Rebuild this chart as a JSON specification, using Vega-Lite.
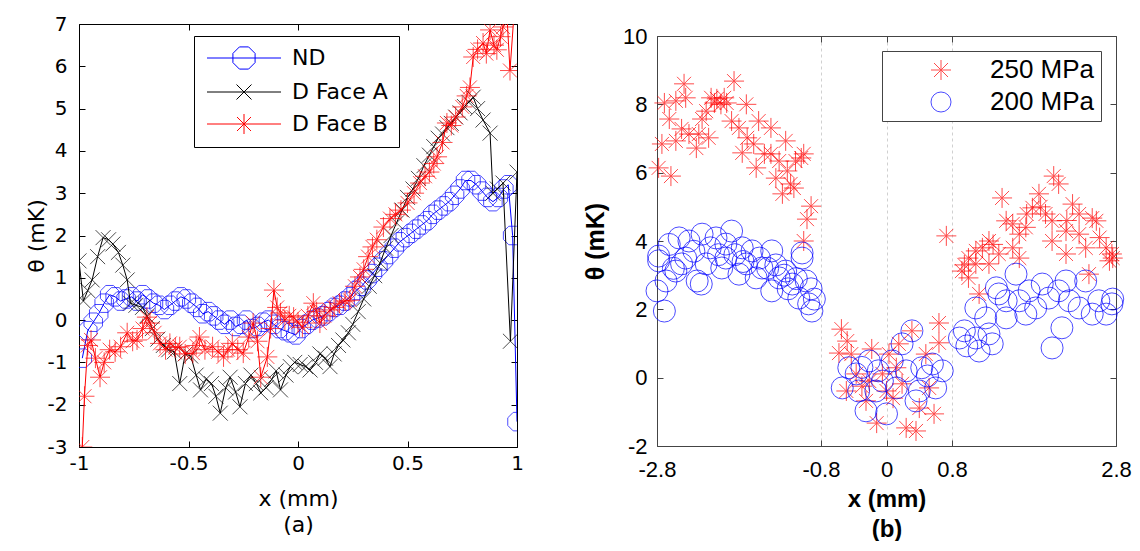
{
  "$schema": "https://vega.github.io/schema/vega-lite/v6.json",
  "background": "white",
  "padding": {"left": 25, "top": 0, "right": 5, "bottom": 0},
  "config": {"view": {"stroke": null}, "axis": {"grid": false, "labelFlush": false}},
  "spacing": 59,
  "resolve": {"scale": {"color": "independent", "shape": "independent", "x": "independent", "y": "independent"}, "legend": {"color": "independent", "shape": "independent"}},
  "datasets": {
    "a": [
      {"s": "ND", "x": -0.985, "y": -0.9}, {"s": "ND", "x": -0.96, "y": -0.25}, {"s": "ND", "x": -0.935, "y": -0.05}, {"s": "ND", "x": -0.91, "y": 0.15}, {"s": "ND", "x": -0.885, "y": 0.4}, {"s": "ND", "x": -0.86, "y": 0.6}, {"s": "ND", "x": -0.835, "y": 0.55}, {"s": "ND", "x": -0.81, "y": 0.45}, {"s": "ND", "x": -0.785, "y": 0.5}, {"s": "ND", "x": -0.76, "y": 0.55}, {"s": "ND", "x": -0.735, "y": 0.45}, {"s": "ND", "x": -0.71, "y": 0.6}, {"s": "ND", "x": -0.685, "y": 0.5}, {"s": "ND", "x": -0.66, "y": 0.4}, {"s": "ND", "x": -0.635, "y": 0.35}, {"s": "ND", "x": -0.61, "y": 0.25}, {"s": "ND", "x": -0.585, "y": 0.35}, {"s": "ND", "x": -0.56, "y": 0.45}, {"s": "ND", "x": -0.535, "y": 0.55}, {"s": "ND", "x": -0.51, "y": 0.5}, {"s": "ND", "x": -0.485, "y": 0.4}, {"s": "ND", "x": -0.46, "y": 0.3}, {"s": "ND", "x": -0.435, "y": 0.15}, {"s": "ND", "x": -0.41, "y": 0.2}, {"s": "ND", "x": -0.385, "y": 0.1}, {"s": "ND", "x": -0.36, "y": 0.0}, {"s": "ND", "x": -0.335, "y": -0.1}, {"s": "ND", "x": -0.31, "y": 0.0}, {"s": "ND", "x": -0.285, "y": -0.15}, {"s": "ND", "x": -0.26, "y": -0.1}, {"s": "ND", "x": -0.235, "y": 0.0}, {"s": "ND", "x": -0.21, "y": -0.2}, {"s": "ND", "x": -0.185, "y": -0.15}, {"s": "ND", "x": -0.16, "y": -0.05}, {"s": "ND", "x": -0.135, "y": 0.0}, {"s": "ND", "x": -0.11, "y": -0.1}, {"s": "ND", "x": -0.085, "y": -0.2}, {"s": "ND", "x": -0.06, "y": -0.25}, {"s": "ND", "x": -0.035, "y": -0.3}, {"s": "ND", "x": -0.01, "y": -0.35}, {"s": "ND", "x": 0.015, "y": -0.2}, {"s": "ND", "x": 0.04, "y": -0.1}, {"s": "ND", "x": 0.065, "y": 0.0}, {"s": "ND", "x": 0.09, "y": 0.05}, {"s": "ND", "x": 0.115, "y": 0.1}, {"s": "ND", "x": 0.14, "y": 0.2}, {"s": "ND", "x": 0.165, "y": 0.3}, {"s": "ND", "x": 0.19, "y": 0.35}, {"s": "ND", "x": 0.215, "y": 0.45}, {"s": "ND", "x": 0.24, "y": 0.55}, {"s": "ND", "x": 0.265, "y": 0.7}, {"s": "ND", "x": 0.29, "y": 0.8}, {"s": "ND", "x": 0.315, "y": 0.95}, {"s": "ND", "x": 0.34, "y": 1.1}, {"s": "ND", "x": 0.365, "y": 1.25}, {"s": "ND", "x": 0.39, "y": 1.4}, {"s": "ND", "x": 0.415, "y": 1.55}, {"s": "ND", "x": 0.44, "y": 1.7}, {"s": "ND", "x": 0.465, "y": 1.85}, {"s": "ND", "x": 0.49, "y": 1.95}, {"s": "ND", "x": 0.515, "y": 2.05}, {"s": "ND", "x": 0.54, "y": 2.15}, {"s": "ND", "x": 0.565, "y": 2.25}, {"s": "ND", "x": 0.59, "y": 2.35}, {"s": "ND", "x": 0.615, "y": 2.5}, {"s": "ND", "x": 0.64, "y": 2.6}, {"s": "ND", "x": 0.665, "y": 2.7}, {"s": "ND", "x": 0.69, "y": 2.8}, {"s": "ND", "x": 0.715, "y": 2.95}, {"s": "ND", "x": 0.74, "y": 3.1}, {"s": "ND", "x": 0.765, "y": 3.3}, {"s": "ND", "x": 0.79, "y": 3.3}, {"s": "ND", "x": 0.815, "y": 3.2}, {"s": "ND", "x": 0.84, "y": 3.05}, {"s": "ND", "x": 0.865, "y": 2.9}, {"s": "ND", "x": 0.89, "y": 2.8}, {"s": "ND", "x": 0.915, "y": 2.9}, {"s": "ND", "x": 0.94, "y": 3.1}, {"s": "ND", "x": 0.96, "y": 3.2}, {"s": "ND", "x": 0.98, "y": 2.0}, {"s": "ND", "x": 1.0, "y": -2.4},
      {"s": "D Face A", "x": -1.0, "y": 1.4}, {"s": "D Face A", "x": -0.98, "y": 0.45}, {"s": "D Face A", "x": -0.96, "y": 0.7}, {"s": "D Face A", "x": -0.94, "y": 0.95}, {"s": "D Face A", "x": -0.915, "y": 1.5}, {"s": "D Face A", "x": -0.89, "y": 1.95}, {"s": "D Face A", "x": -0.865, "y": 1.9}, {"s": "D Face A", "x": -0.845, "y": 1.8}, {"s": "D Face A", "x": -0.82, "y": 1.6}, {"s": "D Face A", "x": -0.8, "y": 1.3}, {"s": "D Face A", "x": -0.78, "y": 0.95}, {"s": "D Face A", "x": -0.765, "y": 0.4}, {"s": "D Face A", "x": -0.74, "y": 0.35}, {"s": "D Face A", "x": -0.71, "y": 0.3}, {"s": "D Face A", "x": -0.69, "y": 0.1}, {"s": "D Face A", "x": -0.665, "y": -0.2}, {"s": "D Face A", "x": -0.64, "y": -0.45}, {"s": "D Face A", "x": -0.615, "y": -0.6}, {"s": "D Face A", "x": -0.59, "y": -0.7}, {"s": "D Face A", "x": -0.565, "y": -0.75}, {"s": "D Face A", "x": -0.54, "y": -1.5}, {"s": "D Face A", "x": -0.515, "y": -0.8}, {"s": "D Face A", "x": -0.49, "y": -0.85}, {"s": "D Face A", "x": -0.465, "y": -1.3}, {"s": "D Face A", "x": -0.445, "y": -1.65}, {"s": "D Face A", "x": -0.42, "y": -1.4}, {"s": "D Face A", "x": -0.395, "y": -1.5}, {"s": "D Face A", "x": -0.375, "y": -1.8}, {"s": "D Face A", "x": -0.355, "y": -2.2}, {"s": "D Face A", "x": -0.33, "y": -1.6}, {"s": "D Face A", "x": -0.31, "y": -1.35}, {"s": "D Face A", "x": -0.285, "y": -1.7}, {"s": "D Face A", "x": -0.265, "y": -2.05}, {"s": "D Face A", "x": -0.24, "y": -1.5}, {"s": "D Face A", "x": -0.215, "y": -1.3}, {"s": "D Face A", "x": -0.19, "y": -1.5}, {"s": "D Face A", "x": -0.17, "y": -1.72}, {"s": "D Face A", "x": -0.145, "y": -1.6}, {"s": "D Face A", "x": -0.12, "y": -1.4}, {"s": "D Face A", "x": -0.1, "y": -1.2}, {"s": "D Face A", "x": -0.08, "y": -1.65}, {"s": "D Face A", "x": -0.055, "y": -1.3}, {"s": "D Face A", "x": -0.035, "y": -1.1}, {"s": "D Face A", "x": -0.015, "y": -1.0}, {"s": "D Face A", "x": 0.01, "y": -1.05}, {"s": "D Face A", "x": 0.035, "y": -1.1}, {"s": "D Face A", "x": 0.055, "y": -1.18}, {"s": "D Face A", "x": 0.08, "y": -1.0}, {"s": "D Face A", "x": 0.1, "y": -0.8}, {"s": "D Face A", "x": 0.125, "y": -0.9}, {"s": "D Face A", "x": 0.146, "y": -1.1}, {"s": "D Face A", "x": 0.165, "y": -0.8}, {"s": "D Face A", "x": 0.185, "y": -0.6}, {"s": "D Face A", "x": 0.205, "y": -0.47}, {"s": "D Face A", "x": 0.23, "y": -0.3}, {"s": "D Face A", "x": 0.25, "y": -0.1}, {"s": "D Face A", "x": 0.275, "y": 0.2}, {"s": "D Face A", "x": 0.3, "y": 0.5}, {"s": "D Face A", "x": 0.325, "y": 0.8}, {"s": "D Face A", "x": 0.35, "y": 1.05}, {"s": "D Face A", "x": 0.375, "y": 1.35}, {"s": "D Face A", "x": 0.4, "y": 1.7}, {"s": "D Face A", "x": 0.425, "y": 2.0}, {"s": "D Face A", "x": 0.45, "y": 2.3}, {"s": "D Face A", "x": 0.475, "y": 2.6}, {"s": "D Face A", "x": 0.5, "y": 2.9}, {"s": "D Face A", "x": 0.525, "y": 3.1}, {"s": "D Face A", "x": 0.55, "y": 3.35}, {"s": "D Face A", "x": 0.575, "y": 3.65}, {"s": "D Face A", "x": 0.6, "y": 3.9}, {"s": "D Face A", "x": 0.62, "y": 4.1}, {"s": "D Face A", "x": 0.64, "y": 4.3}, {"s": "D Face A", "x": 0.66, "y": 4.4}, {"s": "D Face A", "x": 0.68, "y": 4.55}, {"s": "D Face A", "x": 0.7, "y": 4.65}, {"s": "D Face A", "x": 0.72, "y": 4.8}, {"s": "D Face A", "x": 0.74, "y": 4.9}, {"s": "D Face A", "x": 0.76, "y": 5.05}, {"s": "D Face A", "x": 0.78, "y": 5.15}, {"s": "D Face A", "x": 0.8, "y": 5.27}, {"s": "D Face A", "x": 0.82, "y": 5.0}, {"s": "D Face A", "x": 0.845, "y": 4.73}, {"s": "D Face A", "x": 0.877, "y": 4.42}, {"s": "D Face A", "x": 0.89, "y": 3.0}, {"s": "D Face A", "x": 0.91, "y": 3.1}, {"s": "D Face A", "x": 0.936, "y": 3.24}, {"s": "D Face A", "x": 0.97, "y": -0.5}, {"s": "D Face A", "x": 1.0, "y": 3.5},
      {"s": "D Face B", "x": -0.985, "y": -3.0}, {"s": "D Face B", "x": -0.975, "y": -1.8}, {"s": "D Face B", "x": -0.96, "y": -0.6}, {"s": "D Face B", "x": -0.945, "y": -0.47}, {"s": "D Face B", "x": -0.925, "y": -0.9}, {"s": "D Face B", "x": -0.904, "y": -1.35}, {"s": "D Face B", "x": -0.885, "y": -1.0}, {"s": "D Face B", "x": -0.86, "y": -0.7}, {"s": "D Face B", "x": -0.835, "y": -0.75}, {"s": "D Face B", "x": -0.81, "y": -0.63}, {"s": "D Face B", "x": -0.78, "y": -0.3}, {"s": "D Face B", "x": -0.755, "y": -0.5}, {"s": "D Face B", "x": -0.735, "y": -0.47}, {"s": "D Face B", "x": -0.71, "y": -0.2}, {"s": "D Face B", "x": -0.69, "y": 0.07}, {"s": "D Face B", "x": -0.676, "y": -0.07}, {"s": "D Face B", "x": -0.655, "y": -0.3}, {"s": "D Face B", "x": -0.63, "y": -0.55}, {"s": "D Face B", "x": -0.605, "y": -0.7}, {"s": "D Face B", "x": -0.585, "y": -0.55}, {"s": "D Face B", "x": -0.56, "y": -0.65}, {"s": "D Face B", "x": -0.54, "y": -0.63}, {"s": "D Face B", "x": -0.515, "y": -0.8}, {"s": "D Face B", "x": -0.48, "y": -0.78}, {"s": "D Face B", "x": -0.465, "y": -0.6}, {"s": "D Face B", "x": -0.45, "y": -0.4}, {"s": "D Face B", "x": -0.425, "y": -0.7}, {"s": "D Face B", "x": -0.39, "y": -0.63}, {"s": "D Face B", "x": -0.365, "y": -0.75}, {"s": "D Face B", "x": -0.34, "y": -0.87}, {"s": "D Face B", "x": -0.32, "y": -0.7}, {"s": "D Face B", "x": -0.3, "y": -0.55}, {"s": "D Face B", "x": -0.275, "y": -0.7}, {"s": "D Face B", "x": -0.25, "y": -0.78}, {"s": "D Face B", "x": -0.225, "y": -0.4}, {"s": "D Face B", "x": -0.205, "y": -0.07}, {"s": "D Face B", "x": -0.185, "y": -0.5}, {"s": "D Face B", "x": -0.17, "y": -1.35}, {"s": "D Face B", "x": -0.14, "y": -0.87}, {"s": "D Face B", "x": -0.125, "y": -0.2}, {"s": "D Face B", "x": -0.11, "y": 0.71}, {"s": "D Face B", "x": -0.095, "y": 0.3}, {"s": "D Face B", "x": -0.08, "y": 0.17}, {"s": "D Face B", "x": -0.06, "y": 0.0}, {"s": "D Face B", "x": -0.04, "y": 0.1}, {"s": "D Face B", "x": -0.02, "y": 0.07}, {"s": "D Face B", "x": 0.0, "y": -0.05}, {"s": "D Face B", "x": 0.02, "y": -0.17}, {"s": "D Face B", "x": 0.045, "y": 0.1}, {"s": "D Face B", "x": 0.07, "y": 0.4}, {"s": "D Face B", "x": 0.085, "y": 0.2}, {"s": "D Face B", "x": 0.1, "y": -0.07}, {"s": "D Face B", "x": 0.12, "y": 0.1}, {"s": "D Face B", "x": 0.146, "y": 0.24}, {"s": "D Face B", "x": 0.165, "y": 0.3}, {"s": "D Face B", "x": 0.19, "y": 0.4}, {"s": "D Face B", "x": 0.215, "y": 0.45}, {"s": "D Face B", "x": 0.237, "y": 0.47}, {"s": "D Face B", "x": 0.26, "y": 0.8}, {"s": "D Face B", "x": 0.283, "y": 1.02}, {"s": "D Face B", "x": 0.3, "y": 1.2}, {"s": "D Face B", "x": 0.32, "y": 1.5}, {"s": "D Face B", "x": 0.34, "y": 1.73}, {"s": "D Face B", "x": 0.36, "y": 1.9}, {"s": "D Face B", "x": 0.39, "y": 2.2}, {"s": "D Face B", "x": 0.42, "y": 2.4}, {"s": "D Face B", "x": 0.445, "y": 2.5}, {"s": "D Face B", "x": 0.47, "y": 2.6}, {"s": "D Face B", "x": 0.5, "y": 2.77}, {"s": "D Face B", "x": 0.53, "y": 3.0}, {"s": "D Face B", "x": 0.557, "y": 3.24}, {"s": "D Face B", "x": 0.58, "y": 3.4}, {"s": "D Face B", "x": 0.6, "y": 3.5}, {"s": "D Face B", "x": 0.62, "y": 3.7}, {"s": "D Face B", "x": 0.635, "y": 3.86}, {"s": "D Face B", "x": 0.66, "y": 4.2}, {"s": "D Face B", "x": 0.68, "y": 4.66}, {"s": "D Face B", "x": 0.7, "y": 4.6}, {"s": "D Face B", "x": 0.72, "y": 4.8}, {"s": "D Face B", "x": 0.75, "y": 5.04}, {"s": "D Face B", "x": 0.77, "y": 5.3}, {"s": "D Face B", "x": 0.785, "y": 5.5}, {"s": "D Face B", "x": 0.8, "y": 6.22}, {"s": "D Face B", "x": 0.82, "y": 6.4}, {"s": "D Face B", "x": 0.845, "y": 6.55}, {"s": "D Face B", "x": 0.86, "y": 6.3}, {"s": "D Face B", "x": 0.877, "y": 6.86}, {"s": "D Face B", "x": 0.895, "y": 6.5}, {"s": "D Face B", "x": 0.908, "y": 6.39}, {"s": "D Face B", "x": 0.925, "y": 6.7}, {"s": "D Face B", "x": 0.936, "y": 6.93}, {"s": "D Face B", "x": 0.952, "y": 7.4}, {"s": "D Face B", "x": 0.968, "y": 5.9}, {"s": "D Face B", "x": 0.99, "y": 7.5}
    ],
    "b": [
      {"s": "250 MPa", "x": -2.78, "y": 6.14}, {"s": "250 MPa", "x": -2.74, "y": 6.84}, {"s": "250 MPa", "x": -2.63, "y": 5.9}, {"s": "250 MPa", "x": -2.71, "y": 8.04}, {"s": "250 MPa", "x": -2.65, "y": 7.57}, {"s": "250 MPa", "x": -2.57, "y": 8.1}, {"s": "250 MPa", "x": -2.57, "y": 6.93}, {"s": "250 MPa", "x": -2.47, "y": 8.6}, {"s": "250 MPa", "x": -2.45, "y": 8.19}, {"s": "250 MPa", "x": -2.5, "y": 7.28}, {"s": "250 MPa", "x": -2.41, "y": 7.13}, {"s": "250 MPa", "x": -2.32, "y": 6.72}, {"s": "250 MPa", "x": -2.29, "y": 7.13}, {"s": "250 MPa", "x": -2.25, "y": 7.57}, {"s": "250 MPa", "x": -2.2, "y": 7.8}, {"s": "250 MPa", "x": -2.17, "y": 7.02}, {"s": "250 MPa", "x": -2.14, "y": 8.19}, {"s": "250 MPa", "x": -2.1, "y": 8.04}, {"s": "250 MPa", "x": -2.07, "y": 8.16}, {"s": "250 MPa", "x": -2.02, "y": 8.0}, {"s": "250 MPa", "x": -1.98, "y": 8.19}, {"s": "250 MPa", "x": -1.95, "y": 8.04}, {"s": "250 MPa", "x": -1.89, "y": 7.51}, {"s": "250 MPa", "x": -1.86, "y": 8.68}, {"s": "250 MPa", "x": -1.8, "y": 7.31}, {"s": "250 MPa", "x": -1.76, "y": 6.58}, {"s": "250 MPa", "x": -1.71, "y": 8.0}, {"s": "250 MPa", "x": -1.7, "y": 7.02}, {"s": "250 MPa", "x": -1.62, "y": 6.84}, {"s": "250 MPa", "x": -1.59, "y": 6.14}, {"s": "250 MPa", "x": -1.56, "y": 7.51}, {"s": "250 MPa", "x": -1.49, "y": 6.55}, {"s": "250 MPa", "x": -1.41, "y": 7.31}, {"s": "250 MPa", "x": -1.41, "y": 6.55}, {"s": "250 MPa", "x": -1.35, "y": 5.84}, {"s": "250 MPa", "x": -1.31, "y": 6.34}, {"s": "250 MPa", "x": -1.27, "y": 5.38}, {"s": "250 MPa", "x": -1.23, "y": 6.93}, {"s": "250 MPa", "x": -1.21, "y": 6.05}, {"s": "250 MPa", "x": -1.17, "y": 5.67}, {"s": "250 MPa", "x": -1.13, "y": 5.55}, {"s": "250 MPa", "x": -1.11, "y": 6.34}, {"s": "250 MPa", "x": -1.04, "y": 6.43}, {"s": "250 MPa", "x": -1.01, "y": 6.55}, {"s": "250 MPa", "x": -0.97, "y": 4.64}, {"s": "250 MPa", "x": -0.92, "y": 5.02}, {"s": "250 MPa", "x": -1.01, "y": 4.0},
      {"s": "250 MPa", "x": -0.55, "y": 1.42}, {"s": "250 MPa", "x": -0.48, "y": 1.07}, {"s": "250 MPa", "x": -0.58, "y": 0.72}, {"s": "250 MPa", "x": -0.43, "y": 0.69}, {"s": "250 MPa", "x": -0.18, "y": 0.84}, {"s": "250 MPa", "x": -0.49, "y": -0.39}, {"s": "250 MPa", "x": -0.37, "y": 0.11}, {"s": "250 MPa", "x": -0.25, "y": -0.68}, {"s": "250 MPa", "x": -0.12, "y": -1.33}, {"s": "250 MPa", "x": -0.05, "y": 0.11}, {"s": "250 MPa", "x": 0.03, "y": 0.69}, {"s": "250 MPa", "x": 0.15, "y": 0.99}, {"s": "250 MPa", "x": 0.31, "y": 1.37}, {"s": "250 MPa", "x": 0.24, "y": -1.47}, {"s": "250 MPa", "x": 0.36, "y": -1.56}, {"s": "250 MPa", "x": 0.4, "y": -0.89}, {"s": "250 MPa", "x": 0.48, "y": 0.69}, {"s": "250 MPa", "x": 0.58, "y": -1.06}, {"s": "250 MPa", "x": 0.64, "y": 1.6}, {"s": "250 MPa", "x": 0.64, "y": 1.02}, {"s": "250 MPa", "x": 0.52, "y": -0.3}, {"s": "250 MPa", "x": 0.19, "y": -0.18}, {"s": "250 MPa", "x": 0.12, "y": 0.29}, {"s": "250 MPa", "x": -0.21, "y": -0.1}, {"s": "250 MPa", "x": 0.0, "y": -0.39}, {"s": "250 MPa", "x": -0.3, "y": -0.25}, {"s": "250 MPa", "x": 0.08, "y": -0.6},
      {"s": "250 MPa", "x": 0.73, "y": 4.15}, {"s": "250 MPa", "x": 0.92, "y": 3.12}, {"s": "250 MPa", "x": 1.0, "y": 2.92}, {"s": "250 MPa", "x": 1.13, "y": 2.45}, {"s": "250 MPa", "x": 1.09, "y": 3.33}, {"s": "250 MPa", "x": 1.25, "y": 3.33}, {"s": "250 MPa", "x": 1.62, "y": 3.5}, {"s": "250 MPa", "x": 2.47, "y": 3.03}, {"s": "250 MPa", "x": 2.19, "y": 3.62}, {"s": "250 MPa", "x": 2.72, "y": 3.42}, {"s": "250 MPa", "x": 2.76, "y": 3.5}, {"s": "250 MPa", "x": 1.41, "y": 5.26}, {"s": "250 MPa", "x": 2.04, "y": 5.9}, {"s": "250 MPa", "x": 2.1, "y": 5.67}, {"s": "250 MPa", "x": 1.86, "y": 5.38}, {"s": "250 MPa", "x": 1.78, "y": 4.97}, {"s": "250 MPa", "x": 1.71, "y": 4.79}, {"s": "250 MPa", "x": 1.54, "y": 4.5}, {"s": "250 MPa", "x": 1.46, "y": 4.59}, {"s": "250 MPa", "x": 1.25, "y": 4.0}, {"s": "250 MPa", "x": 1.17, "y": 3.8}, {"s": "250 MPa", "x": 1.94, "y": 4.79}, {"s": "250 MPa", "x": 2.02, "y": 4.59}, {"s": "250 MPa", "x": 2.27, "y": 5.08}, {"s": "250 MPa", "x": 2.35, "y": 4.79}, {"s": "250 MPa", "x": 2.51, "y": 4.67}, {"s": "250 MPa", "x": 2.56, "y": 4.59}, {"s": "250 MPa", "x": 2.19, "y": 4.29}, {"s": "250 MPa", "x": 2.35, "y": 4.2}, {"s": "250 MPa", "x": 2.02, "y": 4.0}, {"s": "250 MPa", "x": 2.43, "y": 3.8}, {"s": "250 MPa", "x": 2.68, "y": 3.8}, {"s": "250 MPa", "x": 2.75, "y": 3.62}, {"s": "250 MPa", "x": 1.62, "y": 4.2}, {"s": "250 MPa", "x": 1.54, "y": 3.8}, {"s": "250 MPa", "x": 1.37, "y": 3.62}, {"s": "250 MPa", "x": 1.09, "y": 3.71}, {"s": "250 MPa", "x": 1.0, "y": 3.5}, {"s": "250 MPa", "x": 1.7, "y": 4.4}, {"s": "250 MPa", "x": 2.6, "y": 4.1}, {"s": "250 MPa", "x": 2.2, "y": 4.6}, {"s": "250 MPa", "x": 1.88, "y": 5.0}, {"s": "250 MPa", "x": 1.3, "y": 3.9}, {"s": "250 MPa", "x": 0.95, "y": 3.3},
      {"s": "200 MPa", "x": -2.71, "y": 1.95}, {"s": "200 MPa", "x": -2.8, "y": 2.54}, {"s": "200 MPa", "x": -2.69, "y": 2.83}, {"s": "200 MPa", "x": -2.78, "y": 3.42}, {"s": "200 MPa", "x": -2.57, "y": 3.12}, {"s": "200 MPa", "x": -2.5, "y": 3.33}, {"s": "200 MPa", "x": -2.31, "y": 2.83}, {"s": "200 MPa", "x": -2.26, "y": 2.74}, {"s": "200 MPa", "x": -2.2, "y": 3.33}, {"s": "200 MPa", "x": -2.01, "y": 3.21}, {"s": "200 MPa", "x": -1.96, "y": 3.5}, {"s": "200 MPa", "x": -1.8, "y": 3.03}, {"s": "200 MPa", "x": -1.71, "y": 3.33}, {"s": "200 MPa", "x": -1.59, "y": 2.92}, {"s": "200 MPa", "x": -1.52, "y": 3.21}, {"s": "200 MPa", "x": -1.4, "y": 2.54}, {"s": "200 MPa", "x": -1.31, "y": 2.92}, {"s": "200 MPa", "x": -1.23, "y": 3.12}, {"s": "200 MPa", "x": -1.15, "y": 2.74}, {"s": "200 MPa", "x": -1.07, "y": 2.33}, {"s": "200 MPa", "x": -0.98, "y": 2.83}, {"s": "200 MPa", "x": -0.95, "y": 2.16}, {"s": "200 MPa", "x": -0.91, "y": 1.95}, {"s": "200 MPa", "x": -1.03, "y": 3.5}, {"s": "200 MPa", "x": -2.78, "y": 3.56}, {"s": "200 MPa", "x": -2.53, "y": 4.09}, {"s": "200 MPa", "x": -2.41, "y": 4.0}, {"s": "200 MPa", "x": -2.25, "y": 4.2}, {"s": "200 MPa", "x": -2.08, "y": 4.09}, {"s": "200 MPa", "x": -1.89, "y": 4.29}, {"s": "200 MPa", "x": -1.96, "y": 3.91}, {"s": "200 MPa", "x": -1.76, "y": 3.8}, {"s": "200 MPa", "x": -1.64, "y": 3.71}, {"s": "200 MPa", "x": -1.4, "y": 3.71}, {"s": "200 MPa", "x": -1.03, "y": 3.65}, {"s": "200 MPa", "x": -2.65, "y": 3.9}, {"s": "200 MPa", "x": -2.35, "y": 3.7}, {"s": "200 MPa", "x": -2.15, "y": 3.8}, {"s": "200 MPa", "x": -1.85, "y": 3.6}, {"s": "200 MPa", "x": -1.55, "y": 3.5}, {"s": "200 MPa", "x": -1.45, "y": 3.2}, {"s": "200 MPa", "x": -1.25, "y": 3.0}, {"s": "200 MPa", "x": -1.1, "y": 2.9}, {"s": "200 MPa", "x": -2.45, "y": 3.5}, {"s": "200 MPa", "x": -2.05, "y": 3.6}, {"s": "200 MPa", "x": -1.75, "y": 3.4}, {"s": "200 MPa", "x": -1.35, "y": 3.3}, {"s": "200 MPa", "x": -2.6, "y": 3.2}, {"s": "200 MPa", "x": -0.88, "y": 2.3}, {"s": "200 MPa", "x": -0.92, "y": 2.6}, {"s": "200 MPa", "x": -1.2, "y": 2.6},
      {"s": "200 MPa", "x": -0.46, "y": 0.29}, {"s": "200 MPa", "x": -0.54, "y": -0.3}, {"s": "200 MPa", "x": -0.34, "y": -0.39}, {"s": "200 MPa", "x": -0.25, "y": -0.97}, {"s": "200 MPa", "x": -0.37, "y": 0.11}, {"s": "200 MPa", "x": -0.21, "y": 0.49}, {"s": "200 MPa", "x": 0.0, "y": -1.06}, {"s": "200 MPa", "x": -0.13, "y": -0.39}, {"s": "200 MPa", "x": 0.07, "y": 0.49}, {"s": "200 MPa", "x": 0.19, "y": 0.99}, {"s": "200 MPa", "x": 0.31, "y": 1.37}, {"s": "200 MPa", "x": 0.24, "y": 0.2}, {"s": "200 MPa", "x": 0.4, "y": -0.39}, {"s": "200 MPa", "x": 0.36, "y": -0.68}, {"s": "200 MPa", "x": 0.56, "y": 0.4}, {"s": "200 MPa", "x": 0.68, "y": 0.2}, {"s": "200 MPa", "x": 0.6, "y": -0.3}, {"s": "200 MPa", "x": 0.12, "y": -0.3}, {"s": "200 MPa", "x": -0.05, "y": -0.1}, {"s": "200 MPa", "x": 0.43, "y": 0.29}, {"s": "200 MPa", "x": -0.3, "y": 0.3}, {"s": "200 MPa", "x": -0.1, "y": 0.2}, {"s": "200 MPa", "x": 0.5, "y": 0.05},
      {"s": "200 MPa", "x": 0.95, "y": 1.37}, {"s": "200 MPa", "x": 0.98, "y": 0.93}, {"s": "200 MPa", "x": 1.13, "y": 0.78}, {"s": "200 MPa", "x": 1.09, "y": 1.16}, {"s": "200 MPa", "x": 1.25, "y": 1.28}, {"s": "200 MPa", "x": 1.29, "y": 0.99}, {"s": "200 MPa", "x": 1.09, "y": 2.04}, {"s": "200 MPa", "x": 1.34, "y": 2.63}, {"s": "200 MPa", "x": 1.46, "y": 1.75}, {"s": "200 MPa", "x": 1.58, "y": 3.03}, {"s": "200 MPa", "x": 1.62, "y": 2.25}, {"s": "200 MPa", "x": 1.7, "y": 1.86}, {"s": "200 MPa", "x": 1.82, "y": 2.04}, {"s": "200 MPa", "x": 1.9, "y": 2.74}, {"s": "200 MPa", "x": 1.98, "y": 2.33}, {"s": "200 MPa", "x": 2.02, "y": 0.87}, {"s": "200 MPa", "x": 2.1, "y": 2.54}, {"s": "200 MPa", "x": 2.14, "y": 1.46}, {"s": "200 MPa", "x": 2.23, "y": 2.25}, {"s": "200 MPa", "x": 2.35, "y": 2.04}, {"s": "200 MPa", "x": 2.43, "y": 2.83}, {"s": "200 MPa", "x": 2.51, "y": 1.86}, {"s": "200 MPa", "x": 2.59, "y": 2.25}, {"s": "200 MPa", "x": 2.75, "y": 2.16}, {"s": "200 MPa", "x": 2.76, "y": 2.3}, {"s": "200 MPa", "x": 2.68, "y": 1.86}, {"s": "200 MPa", "x": 2.19, "y": 2.83}, {"s": "200 MPa", "x": 1.74, "y": 2.54}, {"s": "200 MPa", "x": 1.46, "y": 2.25}, {"s": "200 MPa", "x": 1.21, "y": 1.75}, {"s": "200 MPa", "x": 0.89, "y": 1.16}, {"s": "200 MPa", "x": 1.37, "y": 2.45}
    ]
  },
  "hconcat": [
    {
      "width": 438, "height": 423,
      "data": {"name": "a"},
      "resolve": {"axis": {"x": "independent", "y": "independent"}},
      "layer": [
        {
          "encoding": {
            "x": {"field": "x", "type": "quantitative", "scale": {"domain": [-1, 1], "nice": false, "zero": false},
              "axis": {"orient": "bottom", "values": [-1, -0.5, 0, 0.5, 1], "labelExpr": "'' + datum.value", "tickSize": -6, "labelPadding": 12, "domainColor": "#000", "tickColor": "#000", "labelColor": "#000", "labelFont": "DejaVu Sans", "labelFontSize": 20, "title": ["x (mm)", "(a)"], "titleFont": "DejaVu Sans", "titleFontSize": 22, "titleFontWeight": "normal", "titleColor": "#000", "titlePadding": 15, "titleLineHeight": 26}},
            "y": {"field": "y", "type": "quantitative", "scale": {"domain": [-3, 7], "nice": false, "zero": false},
              "axis": {"orient": "left", "values": [-3, -2, -1, 0, 1, 2, 3, 4, 5, 6, 7], "labelExpr": "'' + datum.value", "tickSize": -6, "labelPadding": 18, "domainColor": "#000", "tickColor": "#000", "labelColor": "#000", "labelFont": "DejaVu Sans", "labelFontSize": 20, "title": "θ (mK)", "titleFont": "DejaVu Sans", "titleFontSize": 22, "titleFontWeight": "normal", "titleColor": "#000", "titlePadding": -1}},
            "color": {"field": "s", "type": "nominal", "scale": {"domain": ["ND", "D Face A", "D Face B"], "range": ["#0000ff", "#000000", "#ff0000"]},
              "legend": {"title": null, "orient": "none", "legendX": 115, "legendY": 12, "padding": 11, "fillColor": "white", "strokeColor": "#000", "labelFont": "DejaVu Sans", "labelFontSize": 22, "labelColor": "#000", "symbolSize": 400, "symbolOffset": 28, "labelOffset": 37, "rowPadding": 9, "symbolStrokeWidth": 1,
                "encode": {"symbols": {"update": {"shape": {"signal": "datum.value === 'ND' ? 'M-3.7,0H3.7M-0.459,-1.109L0.459,-1.109L1.109,-0.459L1.109,0.459L0.459,1.109L-0.459,1.109L-1.109,0.459L-1.109,-0.459Z' : datum.value === 'D Face A' ? 'M-3.7,0H3.7M-0.75,-0.75L0.75,0.75M-0.75,0.75L0.75,-0.75' : 'M-3.7,0H3.7M0,-1V1M-0.7,-0.7L0.7,0.7M-0.7,0.7L0.7,-0.7'"}, "fill": {"value": "transparent"}, "size": {"value": 400}, "strokeWidth": {"value": 1}}}}}}
          },
          "layer": [
            {"transform": [{"filter": "datum.s === 'ND'"}], "mark": {"type": "line", "strokeWidth": 1, "clip": true}},
            {"transform": [{"filter": "datum.s === 'ND'"}], "mark": {"type": "point", "filled": false, "size": 400, "strokeWidth": 1, "clip": true, "shape": "M-0.383,-0.924L0.383,-0.924L0.924,-0.383L0.924,0.383L0.383,0.924L-0.383,0.924L-0.924,0.383L-0.924,-0.383Z"}},
            {"transform": [{"filter": "datum.s === 'D Face A'"}], "mark": {"type": "line", "strokeWidth": 1, "clip": true}},
            {"transform": [{"filter": "datum.s === 'D Face A'"}], "mark": {"type": "point", "filled": false, "size": 225, "strokeWidth": 1, "clip": true, "shape": "M-1,-1L1,1M-1,1L1,-1"}},
            {"transform": [{"filter": "datum.s === 'D Face B'"}], "mark": {"type": "line", "strokeWidth": 1, "clip": true}},
            {"transform": [{"filter": "datum.s === 'D Face B'"}], "mark": {"type": "point", "filled": false, "size": 400, "strokeWidth": 1, "clip": true, "shape": "M-1,0H1M0,-1V1M-0.7,-0.7L0.7,0.7M-0.7,0.7L0.7,-0.7"}}
          ]
        },
        {
          "mark": {"type": "point", "opacity": 0},
          "encoding": {
            "x": {"field": "x", "type": "quantitative", "axis": {"orient": "top", "values": [-1, -0.5, 0, 0.5, 1], "labels": false, "tickSize": -6, "domainColor": "#000", "tickColor": "#000", "title": null}},
            "y": {"field": "y", "type": "quantitative", "axis": {"orient": "right", "values": [-3, -2, -1, 0, 1, 2, 3, 4, 5, 6, 7], "labels": false, "tickSize": -6, "domainColor": "#000", "tickColor": "#000", "title": null}}
          }
        }
      ]
    },
    {
      "spacing": 0,
      "resolve": {"scale": {"color": "independent", "shape": "independent", "x": "independent", "y": "independent"}},
      "vconcat": [
        {"width": 459, "height": 1, "data": {"values": []}, "mark": {"type": "point", "opacity": 0}, "encoding": {}},
        {
          "width": 459, "height": 410,
          "data": {"name": "b"},
          "resolve": {"axis": {"x": "independent", "y": "independent"}},
          "layer": [
            {
              "encoding": {
                "x": {"field": "x", "type": "quantitative", "scale": {"domain": [-2.8, 2.8], "nice": false, "zero": false},
                  "axis": {"orient": "bottom", "values": [-2.8, -0.8, 0, 0.8, 2.8], "labelExpr": "'' + datum.value", "grid": true, "gridColor": "#d0d0d0", "gridDash": [3, 3], "gridWidth": 1, "tickSize": -6, "labelPadding": 19, "domainColor": "#444", "tickColor": "#444", "labelColor": "#000", "labelFont": "Liberation Sans", "labelFontSize": 22, "title": ["x (mm)", "(b)"], "titleFont": "Liberation Sans", "titleFontSize": 24, "titleFontWeight": "bold", "titleColor": "#000", "titlePadding": 7, "titleLineHeight": 30}},
                "y": {"field": "y", "type": "quantitative", "scale": {"domain": [-2, 10], "nice": false, "zero": false},
                  "axis": {"orient": "left", "values": [-2, 0, 2, 4, 6, 8, 10], "labelExpr": "'' + datum.value", "tickSize": -6, "labelPadding": 16, "domainColor": "#444", "tickColor": "#444", "labelColor": "#000", "labelFont": "Liberation Sans", "labelFontSize": 22, "title": "θ (mK)", "titleFont": "Liberation Sans", "titleFontSize": 25, "titleFontWeight": "bold", "titleColor": "#000", "titlePadding": 14}},
                "color": {"field": "s", "type": "nominal", "scale": {"domain": ["250 MPa", "200 MPa"], "range": ["#ff0000", "#0000ff"]},
                  "legend": {"title": null, "orient": "none", "legendX": 225, "legendY": 15, "padding": 6, "fillColor": "white", "strokeColor": "#444", "labelFont": "Liberation Sans", "labelFontSize": 26, "labelColor": "#000", "symbolSize": 400, "symbolOffset": 40, "labelOffset": 36, "rowPadding": 6, "symbolStrokeWidth": 1, "symbolFillColor": "transparent"}},
                "shape": {"field": "s", "type": "nominal", "scale": {"domain": ["250 MPa", "200 MPa"], "range": ["M-1,0H1M0,-1V1M-0.7,-0.7L0.7,0.7M-0.7,0.7L0.7,-0.7", "circle"]},
                  "legend": {"title": null, "orient": "none", "legendX": 225, "legendY": 15, "padding": 6, "fillColor": "white", "strokeColor": "#444", "labelFont": "Liberation Sans", "labelFontSize": 26, "labelColor": "#000", "symbolSize": 400, "symbolOffset": 40, "labelOffset": 36, "rowPadding": 6, "symbolStrokeWidth": 1, "symbolFillColor": "transparent"}}
              },
              "layer": [
                {"transform": [{"filter": "datum.s === '250 MPa'"}], "mark": {"type": "point", "filled": false, "size": 400, "strokeWidth": 1}},
                {"transform": [{"filter": "datum.s === '200 MPa'"}], "mark": {"type": "point", "filled": false, "size": 484, "strokeWidth": 1}}
              ]
            },
            {
              "mark": {"type": "point", "opacity": 0},
              "encoding": {
                "x": {"field": "x", "type": "quantitative", "axis": {"orient": "top", "values": [-2.8, -0.8, 0, 0.8, 2.8], "labels": false, "tickSize": -6, "domainColor": "#444", "tickColor": "#444", "title": null}},
                "y": {"field": "y", "type": "quantitative", "axis": {"orient": "right", "values": [-2, 0, 2, 4, 6, 8, 10], "labels": false, "tickSize": -6, "domainColor": "#444", "tickColor": "#444", "title": null}}
              }
            }
          ]
        }
      ]
    }
  ]
}
